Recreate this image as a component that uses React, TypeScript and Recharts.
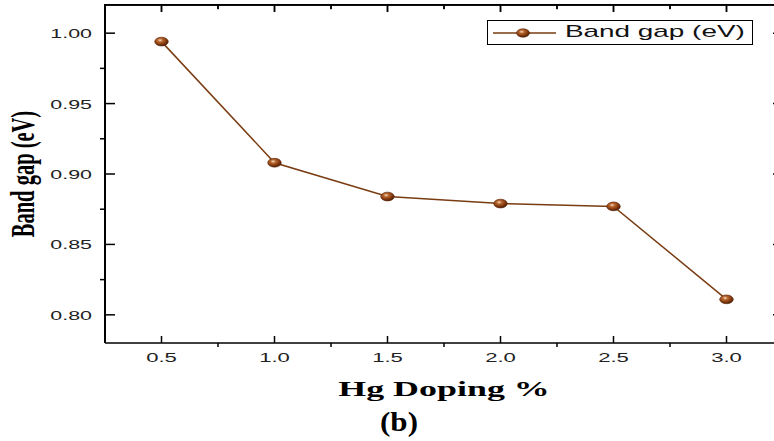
import React from 'react';
import { LineChart, Line, XAxis, YAxis, Legend, ReferenceLine } from 'recharts';

const dopingPercent = [0.5, 1.0, 1.5, 2.0, 2.5, 3.0];
const bandGapEv = [0.994, 0.908, 0.884, 0.879, 0.877, 0.811];
const xTicks = [0.5, 0.75, 1.0, 1.25, 1.5, 1.75, 2.0, 2.25, 2.5, 2.75, 3.0];
const yTicks = [0.8, 0.825, 0.85, 0.875, 0.9, 0.925, 0.95, 0.975, 1.0];
const xDomain = [0.25, 3.25];
const yDomain = [0.78, 1.02];

const data = dopingPercent.map((x, i) => ({ x, bandGap: bandGapEv[i] }));

const LINE_COLOR = '#7a3c12';
const SANS = "'Liberation Sans', Arial, sans-serif";
const SERIF = "'Liberation Serif', 'Times New Roman', serif";

const isMajorX = (v: number) => Math.abs(v * 2 - Math.round(v * 2)) < 1e-6;
const isMajorY = (v: number) => Math.abs(v * 20 - Math.round(v * 20)) < 1e-6;

const BottomTick = (props: any) => {
  const { x, y, payload } = props;
  const v = payload.value;
  if (isMajorX(v)) {
    return (
      <g>
        <line x1={x} x2={x} y1={y} y2={y - 7} stroke="#000" strokeWidth={1.5} />
        <text transform={`translate(${x},${y + 19}) scale(1.7,1)`} textAnchor="middle" fontFamily={SANS} fontSize={13} fill="#222">
          {v.toFixed(1)}
        </text>
      </g>
    );
  }
  return <line x1={x} x2={x} y1={y} y2={y + 4} stroke="#000" strokeWidth={1.5} />;
};

const TopTick = (props: any) => {
  const { x, y, payload } = props;
  const len = isMajorX(payload.value) ? 7 : 4;
  return <line x1={x} x2={x} y1={y} y2={y + len} stroke="#000" strokeWidth={1.5} />;
};

const LeftTick = (props: any) => {
  const { x, y, payload } = props;
  const v = payload.value;
  if (isMajorY(v)) {
    return (
      <g>
        <line x1={x} x2={x + 10} y1={y} y2={y} stroke="#000" strokeWidth={1.5} />
        <text transform={`translate(${x - 13},${y + 5}) scale(1.65,1)`} textAnchor="end" fontFamily={SANS} fontSize={13} fill="#222">
          {v.toFixed(2)}
        </text>
      </g>
    );
  }
  return <line x1={x} x2={x - 5} y1={y} y2={y} stroke="#000" strokeWidth={1.5} />;
};

const RightTick = (props: any) => {
  const { x, y, payload } = props;
  const len = isMajorY(payload.value) ? 10 : 5;
  return <line x1={x} x2={x - len} y1={y} y2={y} stroke="#000" strokeWidth={1.5} />;
};

const SphereDot = (props: any) => {
  const { cx, cy, index } = props;
  if (cx == null || cy == null) return null;
  return (
    <ellipse key={`dot-${index}`} cx={cx} cy={cy} rx={6.8} ry={4.4} fill="url(#sphereGrad)" stroke="#5a2406" strokeWidth={0.6} />
  );
};

const XLabel = (props: any) => {
  const vb = props.viewBox || { x: 105, y: 343, width: 678, height: 60 };
  const cx = vb.x + vb.width / 2;
  return (
    <g>
      <text transform={`translate(${cx},${vb.y + 53}) scale(1.71,1)`} textAnchor="middle" fontFamily={SERIF} fontWeight="bold" fontSize={21} fill="#000">
        Hg Doping %
      </text>
      <text transform={`translate(${cx - 45},${vb.y + 88}) scale(1.15,1)`} textAnchor="middle" fontFamily={SERIF} fontWeight="bold" fontSize={27} fill="#000">
        (b)
      </text>
    </g>
  );
};

const YLabel = (props: any) => {
  const vb = props.viewBox || { x: 45, y: 5, width: 60, height: 338 };
  const cy = vb.y + vb.height / 2;
  return (
    <text transform={`translate(${vb.x - 11},${cy}) scale(1.6,1) rotate(-90)`} textAnchor="middle" fontFamily={SERIF} fontWeight="bold" fontSize={20.5} fill="#000">
      Band gap (eV)
    </text>
  );
};

const renderLegend = () => (
  <div style={{ position: 'relative', width: 266, height: 25, border: '1px solid #000', background: '#fff', boxSizing: 'border-box' }}>
    <svg width={70} height={23} style={{ position: 'absolute', left: 0, top: 0 }}>
      <line x1={5} x2={68} y1={12} y2={12} stroke={LINE_COLOR} strokeWidth={1.5} />
      <ellipse cx={35} cy={12} rx={6.5} ry={4.2} fill="url(#sphereGrad)" stroke="#5a2406" strokeWidth={0.6} />
    </svg>
    <span style={{ position: 'absolute', left: 77, top: 1, fontFamily: SANS, fontSize: 17, lineHeight: '20px', color: '#111', transform: 'scaleX(1.64)', transformOrigin: 'left center', whiteSpace: 'nowrap' }}>
      Band gap (eV)
    </span>
  </div>
);

const yTop = yDomain[1];

export default function App() {
  return (
    <div style={{ position: 'absolute', left: 0, top: 0, width: 774, height: 441, overflow: 'hidden', background: '#fff' }}>
      <svg width={0} height={0} style={{ position: 'absolute' }}>
        <defs>
          <radialGradient id="sphereGrad" cx="40%" cy="35%" r="65%">
            <stop offset="0%" stopColor="#f3dcc4" />
            <stop offset="30%" stopColor="#b8652c" />
            <stop offset="75%" stopColor="#7a340c" />
            <stop offset="100%" stopColor="#4e1f04" />
          </radialGradient>
        </defs>
      </svg>
      <LineChart width={800} height={441} data={data} margin={{ top: 4, right: 16, bottom: 38, left: 45 }}>
        <XAxis
          xAxisId="b"
          dataKey="x"
          type="number"
          domain={xDomain}
          ticks={xTicks}
          interval={0}
          height={60}
          tickSize={0}
          tickMargin={0}
          tickLine={false}
          tick={<BottomTick />}
          axisLine={{ stroke: '#000', strokeWidth: 1.5 }}
          label={<XLabel />}
        />
        <XAxis
          xAxisId="t"
          orientation="top"
          dataKey="x"
          type="number"
          domain={xDomain}
          ticks={xTicks}
          interval={0}
          height={1}
          tickSize={0}
          tickMargin={0}
          tickLine={false}
          tick={<TopTick />}
          axisLine={{ stroke: '#000', strokeWidth: 1.5 }}
        />
        <YAxis
          yAxisId="l"
          type="number"
          domain={yDomain}
          ticks={yTicks}
          interval={0}
          width={60}
          tickSize={0}
          tickMargin={0}
          tickLine={false}
          tick={<LeftTick />}
          axisLine={{ stroke: '#000', strokeWidth: 2 }}
          label={<YLabel />}
        />
        <YAxis
          yAxisId="r"
          orientation="right"
          type="number"
          domain={yDomain}
          ticks={yTicks}
          interval={0}
          width={1}
          tickSize={0}
          tickMargin={0}
          tickLine={false}
          tick={<RightTick />}
          axisLine={{ stroke: '#000', strokeWidth: 1.5 }}
        />
        <ReferenceLine xAxisId="b" yAxisId="l" y={yTop} stroke="#000" strokeWidth={1.5} ifOverflow="visible" />
        {xTicks.map((t) => (
          <ReferenceLine
            key={`top-${t}`}
            xAxisId="b"
            yAxisId="l"
            ifOverflow="visible"
            segment={[{ x: t, y: yTop }, { x: t, y: yTop - (isMajorX(t) ? 0.005 : 0.003) }]}
            stroke="#000"
            strokeWidth={1.5}
          />
        ))}
        <Legend
          layout="vertical"
          align="center"
          verticalAlign="middle"
          content={renderLegend}
          wrapperStyle={{ position: 'absolute', left: 487, top: 20, width: 266, height: 25 }}
        />
        <Line
          xAxisId="b"
          yAxisId="l"
          dataKey="bandGap"
          name="Band gap (eV)"
          stroke={LINE_COLOR}
          strokeWidth={1.5}
          dot={<SphereDot />}
          activeDot={false}
          isAnimationActive={false}
        />
        <Line
          xAxisId="t"
          yAxisId="r"
          dataKey="bandGap"
          stroke="transparent"
          strokeWidth={0}
          dot={false}
          activeDot={false}
          legendType="none"
          isAnimationActive={false}
        />
      </LineChart>
      <div style={{ position: 'absolute', left: 104, top: 4, width: 680, height: 0, borderTop: '1.5px solid #000', zIndex: 5, pointerEvents: 'none' }} />
    </div>
  );
}
